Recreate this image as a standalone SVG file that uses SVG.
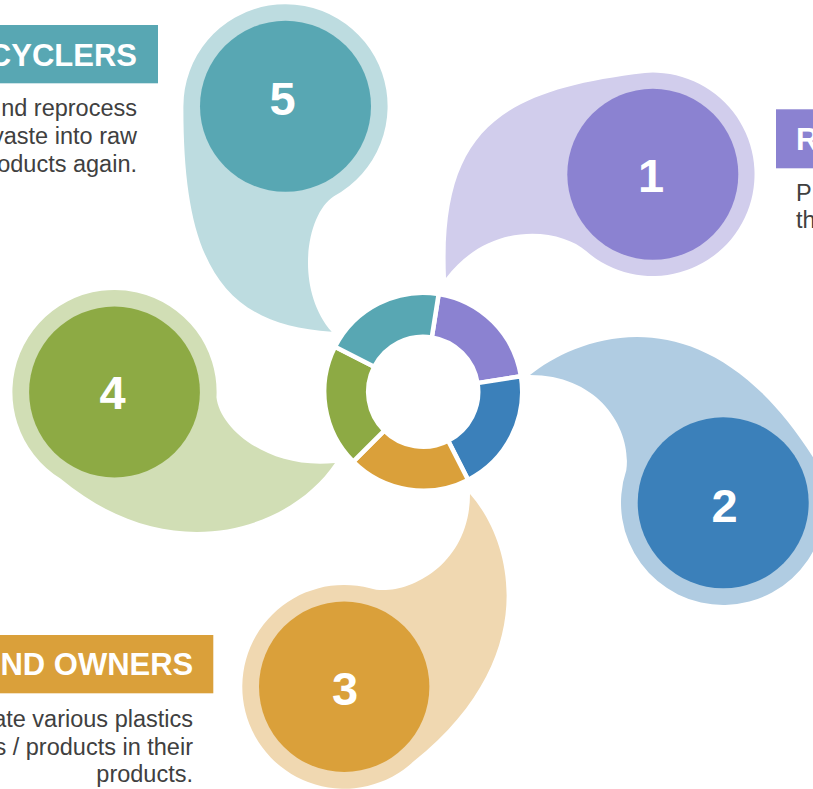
<svg xmlns="http://www.w3.org/2000/svg" width="813" height="789" viewBox="0 0 813 789">
<style>
text{font-family:"Liberation Sans",Arial,sans-serif}
.num{font-size:47px;font-weight:bold;fill:#fff;text-anchor:middle}
.ttl{font-size:31px;font-weight:bold;fill:#fff}
.body{font-size:23.5px;fill:#404040}
.end{text-anchor:end}
.seg{stroke:#fff;stroke-width:4.5;stroke-linejoin:miter}
</style>
<rect width="813" height="789" fill="#fff"/>
<g id="node-1">
<path d="M446,278 C440,130 500,90 645,72.9 A101.7,101.7 0 1 1 586.1,251.05 C560,228 490,220 446,278 Z" fill="#D1CDEC"/>
<circle cx="652.8" cy="174.3" r="85.5" fill="#8B82D1"/>
<text class="num" x="651" y="191.5">1</text>
<rect x="776" y="109.3" width="40" height="59" fill="#8B82D1"/>
<text class="ttl" x="796" y="150">R</text>
<text class="body" x="796" y="200.7">P</text>
<text class="body" x="796" y="228.3">th</text>
</g>
<g id="node-2">
<path d="M530,375 C580,335 710,285 818.75,466.5 A102.2,102.2 0 1 1 626.28,470.37 C632,430 600,375 530,375 Z" fill="#B0CCE2"/>
<circle cx="723.2" cy="502.8" r="85.5" fill="#3B80BA"/>
<text class="num" x="724.5" y="521.5">2</text>
</g>
<g id="node-3">
<path d="M470,494 C515,545 540,660 413.7,761.32 A101.9,101.9 0 1 1 370.06,588.24 C400,598 470,570 470,494 Z" fill="#F0D8B1"/>
<circle cx="344.2" cy="686.8" r="85.2" fill="#DAA03A"/>
<text class="num" x="345" y="705">3</text>
<rect x="0" y="635" width="213.3" height="58.3" fill="#DAA03A"/>
<text class="ttl end" x="193.3" y="675">ND OWNERS</text>
<text class="body end" x="193" y="726.7">ate various plastics</text>
<text class="body end" x="193" y="754.5">s / products in their</text>
<text class="body end" x="193" y="782.3">products.</text>
</g>
<g id="node-4">
<path d="M335,463 C290,530 170,570 60.4,478.59 A102.1,102.1 0 1 1 216.46,397.34 C220,430 270,470 335,463 Z" fill="#D1DEB5"/>
<circle cx="114.5" cy="392" r="85.4" fill="#8DAA44"/>
<text class="num" x="112.5" y="409.3">4</text>
</g>
<g id="node-5">
<path d="M331.7,331.7 C220,325 183,260 183.4,106.3 A102.1,102.1 0 1 1 333.9,196.2 C305,215 295,290 331.7,331.7 Z" fill="#BDDCE0"/>
<circle cx="285.5" cy="106.3" r="85.5" fill="#58A7B3"/>
<text class="num" x="282.5" y="115">5</text>
<rect x="0" y="25" width="158" height="58.3" fill="#58A7B3"/>
<text class="ttl end" x="137" y="65.7">CYCLERS</text>
<text class="body end" x="137" y="116">nd reprocess</text>
<text class="body end" x="137" y="144">vaste into raw</text>
<text class="body end" x="137" y="171.7">oducts again.</text>
</g>
<g id="connectors">
<g id="donut">
<path class="seg" fill="#8B82D1" d="M438.69,293.92 A99,99 0 0 1 520.98,376.21 L477.52,383.10 A55,55 0 0 0 431.80,337.38 Z"/>
<path class="seg" fill="#3B80BA" d="M520.98,376.21 A99,99 0 0 1 468.15,479.91 L448.17,440.71 A55,55 0 0 0 477.52,383.10 Z"/>
<path class="seg" fill="#DAA03A" d="M468.15,479.91 A99,99 0 0 1 353.2,461.7 L384.31,430.59 A55,55 0 0 0 448.17,440.71 Z"/>
<path class="seg" fill="#8DAA44" d="M353.2,461.7 A99,99 0 0 1 334.99,346.75 L374.19,366.73 A55,55 0 0 0 384.31,430.59 Z"/>
<path class="seg" fill="#58A7B3" d="M334.99,346.75 A99,99 0 0 1 438.69,293.92 L431.80,337.38 A55,55 0 0 0 374.19,366.73 Z"/>
</g>
</g>
</svg>
